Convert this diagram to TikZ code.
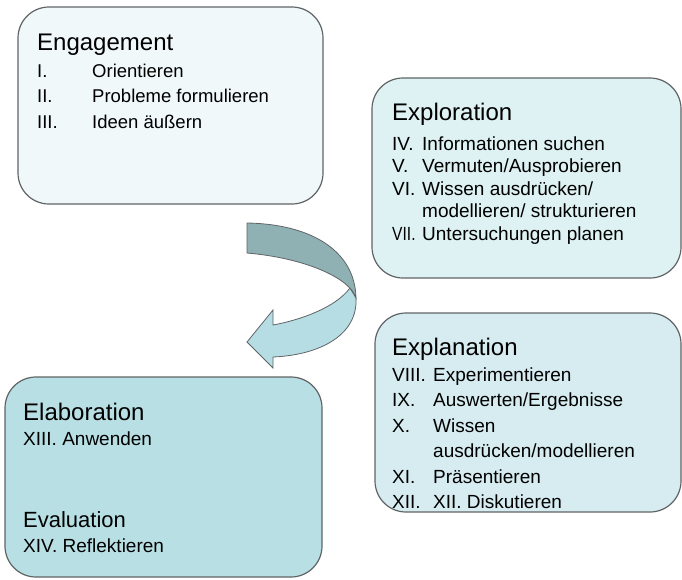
\documentclass[tikz,border=0pt]{standalone}
\usepackage{fontspec}
\setmainfont{Liberation Sans}
\definecolor{engfill}{RGB}{240,248,249}
\definecolor{expfill}{RGB}{222,241,243}
\definecolor{explfill}{RGB}{214,236,240}
\definecolor{elabfill}{RGB}{183,223,228}
\definecolor{arrowdark}{RGB}{143,177,179}
\definecolor{arrowlight}{RGB}{181,221,227}
\definecolor{rim}{RGB}{96,100,102}
\tikzset{
  phasebox/.style={draw=rim,line width=1.2pt,rounded corners=31pt,inner sep=0pt},
  titletext/.style={anchor=base west,inner sep=0pt,font=\fontsize{24}{28}\selectfont},
  itemtext/.style={anchor=base west,inner sep=0pt,font=\fontsize{19}{22}\selectfont}
}
\begin{document}
\begin{tikzpicture}[x=1pt,y=-1pt]
\useasboundingbox (0,0) rectangle (682,579);
% the four phase boxes
\node[phasebox,fill=engfill,minimum width=305pt,minimum height=197pt] (engage) at (170.5,105.5) {};
\node[phasebox,fill=expfill,minimum width=309pt,minimum height=200pt] (explore) at (526.5,178) {};
\node[phasebox,fill=explfill,minimum width=306pt,minimum height=199pt] (explain) at (528,412.5) {};
\node[phasebox,fill=elabfill,minimum width=317pt,minimum height=200pt] (elaborate) at (163.5,477) {};
% curved arrow
\draw[rim,line width=0.8pt,fill=arrowlight] (350,288) .. controls (335,308) and (300,320) .. (273,325)
  -- (273,310) -- (247,342) -- (273,368) -- (273,357)
  .. controls (320,355) and (358,335) .. (356,298) -- cycle;
\draw[rim,line width=0.8pt,fill=arrowdark] (247,223) .. controls (310,224) and (355,250) .. (356,298)
  .. controls (350,278) and (305,258) .. (247,253) -- cycle;
% Engagement
\node[titletext] (engtitle) at (37,50) {Engagement};
\node[itemtext,font=\fontsize{18.5}{22}\selectfont] (engnum1) at (37,77) {I.};
\node[itemtext,font=\fontsize{18.5}{22}\selectfont] (engtxt1) at (92,77) {Orientieren};
\node[itemtext,font=\fontsize{18.5}{22}\selectfont] (engnum2) at (37,102) {II.};
\node[itemtext,font=\fontsize{18.5}{22}\selectfont] (engtxt2) at (92,102) {Probleme formulieren};
\node[itemtext,font=\fontsize{18.5}{22}\selectfont] (engnum3) at (37,128) {III.};
\node[itemtext,font=\fontsize{18.5}{22}\selectfont] (engtxt3) at (92,128) {Ideen äußern};
% Exploration
\node[titletext] (exptitle) at (392,120) {Exploration};
\node[itemtext] (expnum1) at (392,150) {IV.};
\node[itemtext] (exptxt1) at (422,150) {Informationen suchen};
\node[itemtext] (expnum2) at (392,172) {V.};
\node[itemtext] (exptxt2) at (422,172) {Vermuten/Ausprobieren};
\node[itemtext] (expnum3) at (392,195) {VI.};
\node[itemtext] (exptxt3) at (422,195) {Wissen ausdrücken/};
\node[itemtext] (exptxt3b) at (422,217) {modellieren/ strukturieren};
\node[itemtext] (expnum4) at (392,240) {\scalebox{0.82}[1]{VII.}};
\node[itemtext] (exptxt4) at (422,240) {Untersuchungen planen};
% Explanation
\node[titletext] (expltitle) at (392,355) {Explanation};
\node[itemtext] (explnum1) at (392,381) {VIII.};
\node[itemtext] (expltxt1) at (433,381) {Experimentieren};
\node[itemtext] (explnum2) at (392,406) {IX.};
\node[itemtext] (expltxt2) at (433,406) {Auswerten/Ergebnisse};
\node[itemtext] (explnum3) at (392,432) {X.};
\node[itemtext] (expltxt3) at (433,432) {Wissen};
\node[itemtext] (expltxt3b) at (433,457) {ausdrücken/modellieren};
\node[itemtext] (explnum4) at (392,483) {XI.};
\node[itemtext] (expltxt4) at (433,483) {Präsentieren};
\node[itemtext] (explnum5) at (392,508) {XII.};
\node[itemtext] (expltxt5) at (433,508) {XII. Diskutieren};
% Elaboration and Evaluation
\node[titletext] (elabtitle) at (23,420) {Elaboration};
\node[itemtext] (elabtxt) at (23,445) {XIII. Anwenden};
\node[titletext,font=\fontsize{22}{26}\selectfont] (evaltitle) at (23,527) {Evaluation};
\node[itemtext] (evaltxt) at (23,552) {XIV. Reflektieren};
\end{tikzpicture}
\end{document}
